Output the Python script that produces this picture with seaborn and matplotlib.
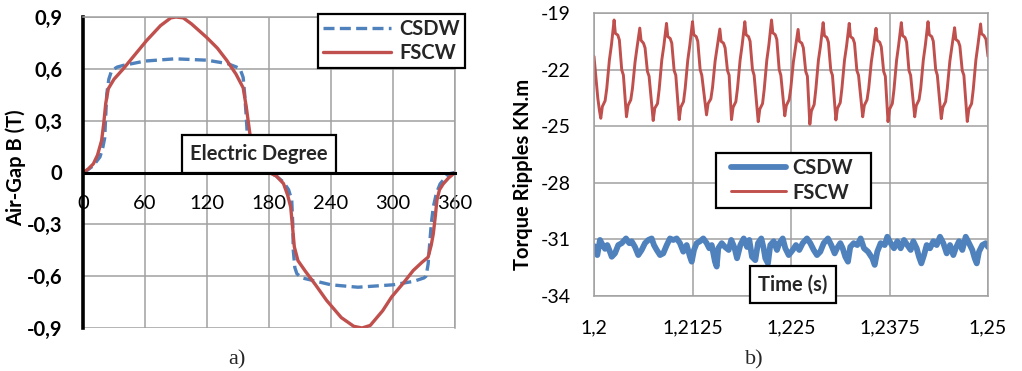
import matplotlib
matplotlib.use('Agg')
import matplotlib.pyplot as plt
from matplotlib.patches import Rectangle
import seaborn as sns

# ---------------- data: panel a) air-gap flux density ----------------
deg_csdw = [0, 3.5, 10, 16.4, 19, 21, 22, 23, 25, 27.7,
            33, 39, 60, 89, 120, 140, 148.6, 152, 155, 156.5,
            158, 159, 165, 175, 180, 187, 194, 199, 202, 203,
            203.5, 205, 207, 212, 219, 240, 266, 300, 320, 330,
            332, 334, 335, 337, 339, 342, 345.6, 352, 356, 360]
csdw = [0, 0.01, 0.04, 0.09, 0.14, 0.2, 0.33, 0.455, 0.54, 0.59,
        0.61, 0.62, 0.645, 0.658, 0.65, 0.63, 0.61, 0.6, 0.55, 0.45,
        0.32, 0.22, 0.1, 0.02, 0, -0.02, -0.056, -0.1, -0.16, -0.3,
        -0.45, -0.55, -0.586, -0.61, -0.62, -0.65, -0.664, -0.65, -0.63, -0.61,
        -0.6, -0.53, -0.45, -0.3, -0.2, -0.12, -0.066, -0.02, -0.005, 0]

deg_fscw = [0, 5, 10, 14, 18, 20, 22, 24.5, 30, 39,
            50, 61.6, 75, 85, 90, 97, 105, 120, 130, 139,
            148, 155, 158, 161.6, 170, 180, 187, 194, 198, 201,
            203, 204.5, 208, 215, 225, 235.7, 250, 262, 270, 278,
            290, 298.7, 310, 319.6, 328, 334, 337, 339, 341, 342.5,
            345, 348.6, 354, 360]
fscw = [0, 0.02, 0.05, 0.1, 0.185, 0.28, 0.4, 0.485, 0.54, 0.6,
        0.68, 0.764, 0.85, 0.895, 0.9, 0.895, 0.86, 0.78, 0.72, 0.65,
        0.57, 0.49, 0.38, 0.22, 0.1, 0, -0.02, -0.064, -0.13, -0.2,
        -0.33, -0.43, -0.51, -0.57, -0.65, -0.74, -0.84, -0.89, -0.9, -0.885,
        -0.8, -0.72, -0.64, -0.567, -0.52, -0.49, -0.42, -0.355, -0.25, -0.16,
        -0.1, -0.066, -0.03, 0]

deg_ticks = [0, 60, 120, 180, 240, 300, 360]
deg_labels = ['0', '60', '120', '180', '240', '300', '360']
b_ticks = [0.9, 0.6, 0.3, 0, -0.3, -0.6, -0.9]
b_labels = ['0,9', '0,6', '0,3', '0', '-0,3', '-0,6', '-0,9']

# ---------------- data: panel b) torque ripples ----------------
t_csdw = [1.2, 1.20042, 1.20076, 1.20110, 1.20140, 1.20169, 1.20194, 1.20225, 1.20266, 1.20308,
          1.20352, 1.20406, 1.20448, 1.20478, 1.20520, 1.20562, 1.20605, 1.20647, 1.20689, 1.20732,
          1.20761, 1.20796, 1.20838, 1.20879, 1.20923, 1.20964, 1.21006, 1.21049, 1.21091, 1.21133,
          1.21176, 1.21218, 1.21240, 1.21269, 1.21303, 1.21345, 1.21387, 1.21430, 1.21463, 1.21494,
          1.21535, 1.21557, 1.21577, 1.21621, 1.21662, 1.21709, 1.21742, 1.21785, 1.21815, 1.21857,
          1.21900, 1.21942, 1.21971, 1.22005, 1.22047, 1.22081, 1.22123, 1.22153, 1.22174, 1.22208,
          1.22237, 1.22280, 1.22322, 1.22351, 1.22395, 1.22428, 1.22471, 1.22522, 1.22563, 1.22605,
          1.22648, 1.22703, 1.22745, 1.22788, 1.22830, 1.22872, 1.22915, 1.22969, 1.23011, 1.23054,
          1.23084, 1.23126, 1.23156, 1.23189, 1.23223, 1.23252, 1.23296, 1.23341, 1.23384, 1.23426,
          1.23477, 1.23532, 1.23562, 1.23595, 1.23638, 1.23689, 1.23722, 1.23765, 1.23807, 1.23849,
          1.23892, 1.23934, 1.23976, 1.24019, 1.24052, 1.24095, 1.24124, 1.24154, 1.24188, 1.24222,
          1.24264, 1.24306, 1.24349, 1.24391, 1.24433, 1.24476, 1.24518, 1.24560, 1.24590, 1.24632,
          1.24674, 1.24717, 1.24759, 1.24801, 1.24831, 1.24857, 1.24886, 1.24928, 1.24971, 1.25]
v_csdw = [-31.35, -31.83, -31.03, -31.3, -31.5, -31.3, -31.56, -31.92, -31.74, -31.3,
          -31.2, -30.95, -31.2, -31.1, -31.4, -31.83, -31.56, -31.2, -31.03, -30.95,
          -31.3, -31.56, -31.83, -31.74, -31.3, -30.95, -31.03, -30.95, -31.2, -31.65,
          -31.3, -31.92, -32.18, -31.56, -31.2, -31.1, -30.95, -31.2, -31.47, -31.3,
          -32.18, -32.44, -31.47, -31.2, -31.4, -31.56, -31.03, -31.47, -32.0, -31.3,
          -30.95, -31.4, -31.03, -31.92, -32.1, -31.2, -30.95, -31.47, -32.0, -32.27,
          -31.3, -31.1, -31.56, -31.2, -30.95, -31.47, -31.83, -31.56, -31.3, -31.56,
          -31.2, -30.95, -31.2, -31.56, -31.83, -31.65, -31.2, -30.95, -31.3, -31.74,
          -31.47, -31.2, -31.47, -31.92, -32.18, -31.4, -31.2, -31.3, -30.95, -31.47,
          -31.65, -32.0, -32.35, -31.65, -31.2, -31.3, -30.86, -31.2, -31.47, -31.1,
          -31.47, -31.03, -31.3, -31.56, -31.1, -31.47, -31.92, -32.27, -31.83, -31.3,
          -31.47, -31.1, -31.3, -30.86, -31.2, -31.74, -31.3, -31.83, -31.47, -31.1,
          -31.56, -30.86, -31.2, -31.56, -32.0, -32.27, -31.65, -31.3, -31.2, -31.4]

t_fscw = [1.2, 1.20013, 1.20048, 1.20070,
          1.20086, 1.20106, 1.20141, 1.20162, 1.20195, 1.20221, 1.20255, 1.20271, 1.20302, 1.20322, 1.20352, 1.20373,
          1.20412, 1.20432, 1.20467, 1.20488, 1.20521, 1.20547, 1.20581, 1.20597, 1.20628, 1.20648, 1.20678, 1.20699,
          1.20751, 1.20771, 1.20806, 1.20827, 1.20860, 1.20886, 1.20920, 1.20936, 1.20967, 1.20987, 1.21017, 1.21038,
          1.21081, 1.21101, 1.21136, 1.21157, 1.21190, 1.21216, 1.21250, 1.21266, 1.21297, 1.21317, 1.21347, 1.21368,
          1.21428, 1.21448, 1.21483, 1.21504, 1.21537, 1.21563, 1.21597, 1.21613, 1.21644, 1.21664, 1.21694, 1.21715,
          1.21745, 1.21765, 1.21800, 1.21821, 1.21854, 1.21880, 1.21914, 1.21930, 1.21961, 1.21981, 1.22011, 1.22032,
          1.22084, 1.22104, 1.22139, 1.22160, 1.22193, 1.22219, 1.22253, 1.22269, 1.22300, 1.22320, 1.22350, 1.22371,
          1.22421, 1.22441, 1.22476, 1.22497, 1.22530, 1.22556, 1.22590, 1.22606, 1.22637, 1.22657, 1.22687, 1.22708,
          1.22739, 1.22759, 1.22794, 1.22815, 1.22848, 1.22874, 1.22908, 1.22924, 1.22955, 1.22975, 1.23005, 1.23026,
          1.23070, 1.23090, 1.23125, 1.23146, 1.23179, 1.23205, 1.23239, 1.23255, 1.23286, 1.23306, 1.23336, 1.23357,
          1.23410, 1.23430, 1.23465, 1.23486, 1.23519, 1.23545, 1.23579, 1.23595, 1.23626, 1.23646, 1.23676, 1.23697,
          1.23731, 1.23751, 1.23786, 1.23807, 1.23840, 1.23866, 1.23900, 1.23916, 1.23947, 1.23967, 1.23997, 1.24018,
          1.24070, 1.24090, 1.24125, 1.24146, 1.24179, 1.24205, 1.24239, 1.24255, 1.24286, 1.24306, 1.24336, 1.24357,
          1.24407, 1.24427, 1.24462, 1.24483, 1.24516, 1.24542, 1.24576, 1.24592, 1.24623, 1.24643, 1.24673, 1.24694,
          1.24737, 1.24757, 1.24792, 1.24813, 1.24846, 1.24872, 1.24906, 1.24918, 1.24949, 1.24975, 1.25]
v_fscw = [-21.3, -21.9, -23.5, -24.2,
          -24.58, -23.96, -23.65, -23.0, -21.5, -20.7, -19.37, -20.08, -20.17, -20.43, -22.02, -22.29,
          -24.5, -23.9, -23.6, -23.0, -21.6, -20.8, -19.8, -20.45, -20.6, -20.85, -22.1, -22.35,
          -24.7, -24.05, -23.8, -23.05, -21.5, -20.75, -19.55, -20.25, -20.35, -20.6, -22.05, -22.3,
          -24.65, -24.0, -23.7, -23.0, -21.5, -20.7, -19.46, -20.15, -20.25, -20.5, -22.0, -22.3,
          -24.4, -23.8, -23.55, -22.95, -21.55, -20.8, -19.85, -20.5, -20.6, -20.85, -22.05, -22.3,
          -24.65, -24.0, -23.7, -23.0, -21.5, -20.7, -19.46, -20.15, -20.25, -20.5, -22.0, -22.3,
          -24.76, -24.1, -23.8, -23.05, -21.5, -20.7, -19.37, -20.05, -20.15, -20.4, -22.0, -22.3,
          -24.45, -23.9, -23.6, -23.0, -21.6, -20.85, -19.87, -20.5, -20.6, -20.85, -22.1, -22.35,
          -24.9, -24.2, -23.85, -23.05, -21.5, -20.75, -19.51, -20.2, -20.3, -20.55, -22.05, -22.3,
          -24.67, -24.05, -23.75, -23.0, -21.5, -20.75, -19.55, -20.25, -20.35, -20.6, -22.05, -22.3,
          -24.5, -23.9, -23.6, -23.0, -21.6, -20.85, -19.81, -20.45, -20.55, -20.8, -22.1, -22.35,
          -24.76, -24.1, -23.8, -23.05, -21.5, -20.7, -19.51, -20.2, -20.3, -20.55, -22.05, -22.3,
          -24.5, -23.9, -23.6, -23.0, -21.5, -20.7, -19.46, -20.15, -20.25, -20.5, -22.0, -22.3,
          -24.6, -24.0, -23.7, -23.0, -21.55, -20.8, -19.78, -20.4, -20.5, -20.75, -22.05, -22.3,
          -24.75, -24.1, -23.8, -23.05, -21.5, -20.7, -19.58, -20.1, -20.2, -20.4, -21.3]

t_ticks = [1.2, 1.2125, 1.225, 1.2375, 1.25]
t_labels = ['1,2', '1,2125', '1,225', '1,2375', '1,25']
tq_ticks = [-19, -22, -25, -28, -31, -34]
tq_labels = ['-19', '-22', '-25', '-28', '-31', '-34']

# ---------------- styling ----------------
sns.set_theme(style='white')
plt.rcParams['font.family'] = ['Lato', 'DejaVu Sans']
plt.rcParams['axes.unicode_minus'] = False

BLUE = '#4F81BD'
RED = '#C0504D'
GRID = '#A0A0A0'
W, H = 1022, 371
FS_A = 14.5
FS_B = 14

fig = plt.figure(figsize=(W / 100, H / 100), dpi=100)
ax1 = fig.add_axes([83 / W, 1 - 328 / H, 372 / W, 311 / H])
ax2 = fig.add_axes([594 / W, 1 - 296 / H, 394 / W, 283 / H])

# ---- panel a ----
sns.lineplot(x=deg_csdw, y=csdw, ax=ax1, color=BLUE, lw=2.4, sort=False,
             linestyle=(0, (3.3, 1.6)), label='CSDW', legend=False)
sns.lineplot(x=deg_fscw, y=fscw, ax=ax1, color=RED, lw=2.4, sort=False,
             label='FSCW', legend=False)
ax1.set_xlim(0, 360)
ax1.set_ylim(-0.9, 0.9)
ax1.set_xticks(deg_ticks)
ax1.set_xticklabels(deg_labels, fontweight='bold')
ax1.set_yticks(b_ticks)
ax1.set_yticklabels(b_labels, fontweight='bold')
ax1.tick_params(axis='both', length=0, labelsize=FS_A, colors='black')
ax1.tick_params(axis='x', pad=16)
ax1.tick_params(axis='y', pad=15)
ax1.grid(True, color=GRID, lw=1.1)
ax1.set_axisbelow(True)
ax1.spines['bottom'].set_position(('data', 0))
ax1.spines['bottom'].set_color('black')
ax1.spines['bottom'].set_linewidth(2.2)
ax1.spines['bottom'].set_zorder(2.5)
ax1.spines['left'].set_color('black')
ax1.spines['left'].set_linewidth(2.6)
for s in ('top', 'right'):
    ax1.spines[s].set_color(GRID)
    ax1.spines[s].set_linewidth(1.1)
ax1.set_xlabel('')
ax1.set_ylabel('Air-Gap B (T)', fontweight='bold', fontsize=FS_A, color='black')
ax1.yaxis.set_label_coords(-0.153, 0.516)

h1, l1 = ax1.get_legend_handles_labels()
leg1 = ax1.legend(h1, l1, loc='upper right', bbox_to_anchor=(465 / W, 1 - 14 / H),
                  bbox_transform=fig.transFigure, frameon=True, fancybox=False,
                  framealpha=1, edgecolor='black', prop=dict(weight='bold', size=FS_A),
                  handlelength=3.4, handletextpad=0.4, labelspacing=0.2,
                  borderpad=0.25, borderaxespad=0)
leg1.get_frame().set_linewidth(1.6)

# ---- panel b ----
sns.lineplot(x=t_csdw, y=v_csdw, ax=ax2, color=BLUE, lw=4.2, sort=False,
             label='CSDW', legend=False)
sns.lineplot(x=t_fscw, y=v_fscw, ax=ax2, color=RED, lw=2.1, sort=False,
             label='FSCW', legend=False)
ax2.set_xlim(1.2, 1.25)
ax2.set_ylim(-34, -19)
ax2.set_xticks(t_ticks)
ax2.set_xticklabels(t_labels)
ax2.set_yticks(tq_ticks)
ax2.set_yticklabels(tq_labels)
ax2.tick_params(axis='both', length=0, labelsize=FS_B, colors='black')
ax2.tick_params(axis='x', pad=17)
ax2.tick_params(axis='y', pad=17)
ax2.grid(True, color=GRID, lw=1.1)
ax2.set_axisbelow(True)
for s in ax2.spines.values():
    s.set_color(GRID)
    s.set_linewidth(1.1)
ax2.set_xlabel('')
ax2.set_ylabel('Torque Ripples KN.m', fontweight='bold', fontsize=FS_A, color='black')
ax2.yaxis.set_label_coords(-0.155, 0.428)

# legend frame drawn as a separate box (wider side padding as in the original)
frame2 = Rectangle((716 / W, 1 - 208 / H), 155 / W, 55 / H, transform=fig.transFigure,
                   fc='white', ec='black', lw=1.6, clip_on=False, zorder=4.9)
ax2.add_patch(frame2)
h2, l2 = ax2.get_legend_handles_labels()
leg2 = ax2.legend(h2, l2, loc='center', bbox_to_anchor=(792 / W, 1 - 180.5 / H),
                  bbox_transform=fig.transFigure, frameon=False,
                  prop=dict(weight='bold', size=FS_A),
                  handlelength=2.7, handletextpad=0.3, labelspacing=0.2,
                  borderpad=0.0, borderaxespad=0)
leg2.set_zorder(5)

# ---- boxed axis titles ----
box = dict(boxstyle='square,pad=0.43', fc='white', ec='black', lw=1.6)
fig.text(259 / W, 1 - 154 / H, 'Electric Degree', ha='center', va='center',
         fontsize=FS_A, fontweight='bold', bbox=box, zorder=10)
fig.text(793 / W, 1 - 284.5 / H, 'Time (s)', ha='center', va='center',
         fontsize=FS_A, fontweight='bold', bbox=box, zorder=10)

# ---- panel captions ----
fig.text(237 / W, 1 - 360 / H, 'a)', ha='center', va='center', fontsize=16,
         family=['Liberation Serif', 'DejaVu Serif'])
fig.text(754 / W, 1 - 360 / H, 'b)', ha='center', va='center', fontsize=16,
         family=['Liberation Serif', 'DejaVu Serif'])

fig.savefig('out.png', dpi=100)
